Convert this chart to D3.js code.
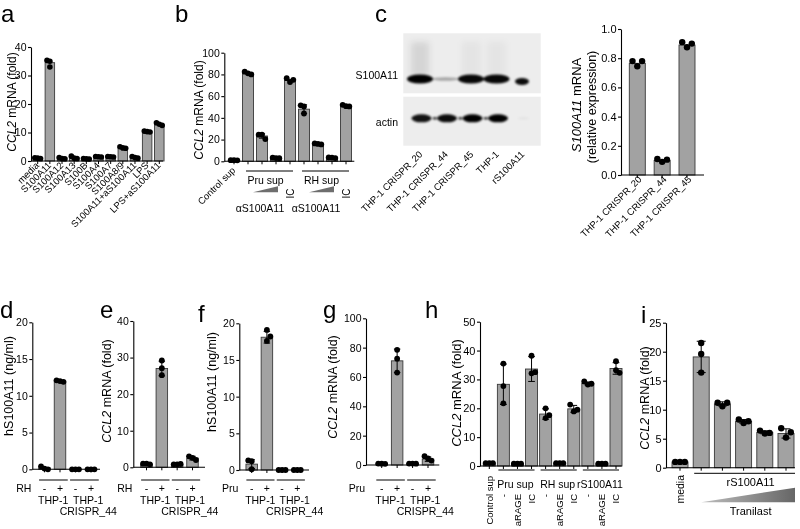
<!DOCTYPE html>
<html><head><meta charset="utf-8">
<script src="https://cdn.jsdelivr.net/npm/d3@7"></script>
<style>body{margin:0;background:#fff}svg{display:block;filter:grayscale(1)}</style>
</head><body>
<script>
// ================= DATA =================
// panel a
const aCats = ["media","S100A11","S100A12","S100A13","S100B","S100A4","S100A7","S100A8/9","S100A11+aS100A11","LPS","LPS+aS100A11"];
const aMeans = [1, 34.5, 1, 1.2, 0.8, 1.5, 1.5, 4.7, 1.3, 10.3, 12.8];
const aReps = [[1.1,1,0.9],[35.3,35,33],[1.2,0.9,0.8],[1.7,1,0.9],[0.9,0.8,0.7],[1.6,1.5,1.4],[1.6,1.5,1.4],[5,4.6,4.5],[1.6,1.2,1],[10.5,10.3,10.2],[13.4,12.9,12.5]];
const aTicks = [0,10,20,30,40];

// panel b
const bCats = ["Control sup","Pru sup","Pru sup + αS100A11 low","Pru sup + αS100A11 high","Pru sup + IC","RH sup","RH sup + αS100A11 low","RH sup + αS100A11 high","RH sup + IC"];
const bMeans = [1, 81, 23.3, 3, 74.5, 48, 16, 3.3, 51];
const bReps = [[1,1,0.9],[82.5,81,80],[24.5,24.5,20.5],[3.3,3,2.8],[76.5,73,75],[51.5,50.5,44],[16.5,16,15.5],[3.5,3.3,3],[52,50.8,50.5]];
const bErrs = [0,0,2,0,0,4,0,0,0];
const bTicks = [0,20,40,60,80,100];
const bGroups = ["Pru sup","RH sup"];
const bAntibody = "αS100A11";
const bControl = "IC";

// panel c: western blot
const blotLanes = ["THP-1 CRISPR_20","THP-1 CRISPR_44","THP-1 CRISPR_45","THP-1","rS100A11"];
const blotS100 = [1, 0.3, 0.97, 0.97, 0.95];
const blotActin = [0.92, 0.95, 1, 1, 0.04];
const blotRows = ["S100A11","actin"];
// panel c: mRNA
const cCats = ["THP-1 CRISPR_20","THP-1 CRISPR_44","THP-1 CRISPR_45"];
const cMeans = [0.765, 0.1, 0.89];
const cReps = [[0.78,0.745,0.78],[0.11,0.09,0.105],[0.91,0.875,0.9]];
const cTicks = [0,0.2,0.4,0.6,0.8,1.0];

// panels d-g
const dCats = ["THP-1 -","THP-1 +","CRISPR_44 -","CRISPR_44 +"];
const signs = ["-","+","-","+"];
const cellGroups = [["THP-1"],["THP-1","CRISPR_44"]];
const dMeans = [0.2, 12, 0, 0];
const dReps = [[0.4,0.1,0],[12.1,12,11.9],[0,0,0],[0,0,0]];
const dTicks = [0,5,10,15,20];
const eMeans = [0.9, 27, 0.8, 2.5];
const eReps = [[1,1,0.8],[29.2,27.1,25.2],[0.8,0.8,0.9],[3,2.6,2]];
const eErrs = [0, 2, 0, 0.5];
const eTicks = [0,10,20,30,40];
const fMeans = [0.8, 18.1, 0, 0];
const fReps = [[1.3,1.2,0.1],[19.1,17.6,18.2],[0,0,0],[0,0,0]];
const fErrs = [0.6, 0.8, 0, 0];
const fTicks = [0,5,10,15,20];
const gMeans = [0.8, 71, 1, 4];
const gReps = [[1,0.9,0.8],[78.5,72.5,63],[1,1,0.9],[6,4.5,3]];
const gErrs = [0, 8, 0, 1.5];
const gTicks = [0,20,40,60,80,100];

// panel h
const hCats = ["Control sup","Pru sup -","Pru sup aRAGE","Pru sup IC","RH sup -","RH sup aRAGE","RH sup IC","rS100A11 -","rS100A11 aRAGE","rS100A11 IC"];
const hSub = ["","-","aRAGE","IC","-","aRAGE","IC","-","aRAGE","IC"];
const hGroups = ["Pru sup","RH sup","rS100A11"];
const hGroupMembers = [[1,3],[4,6],[7,9]];
const hMeans = [1, 28.3, 0.8, 33.6, 18, 1, 19.8, 28.6, 0.8, 33.8];
const hReps = [[1,1,1],[35.5,27.7,21.7],[0.8,0.8,0.8],[38.2,32.1,32.5],[20,16.6,17.6],[1,1,1],[21.3,18.9,19.5],[29.3,28.2,28.5],[0.8,0.8,0.8],[36.3,33.2,32.3]];
const hErrs = [0, 7, 0, 4.3, 1.8, 0, 1.2, 0.5, 0, 2];
const hTicks = [0,10,20,30,40,50];

// panel i
const iCats = ["media","rS100A11 T0","rS100A11 T1","rS100A11 T2","rS100A11 T3","rS100A11 T4"];
const iMeans = [1, 19.1, 11, 8, 6.1, 5.9];
const iReps = [[1,1,1],[21.5,19.6,16.4],[11.2,10.6,11.2],[8.3,7.7,8],[6.4,5.9,6],[6.8,5.2,6.1]];
const iErrs = [0, 2.7, 0.35, 0.3, 0.25, 0.8];
const iTicks = [0,5,10,15,20,25];

// ================= DRAW =================
const FONT = "'Liberation Sans', Arial, sans-serif";
const BAR_FILL = "#a2a2a6", BAR_STROKE = "#3a3a3a";
const TICK = 10.5, SMALL = 10.5, TITLE = 12.5;
const svg = d3.select("body").append("svg").attr("width",800).attr("height",529).attr("font-family",FONT);
const defs = svg.append("defs");
defs.append("filter").attr("id","blur").attr("x","-50%").attr("y","-100%").attr("width","200%").attr("height","300%")
  .append("feGaussianBlur").attr("stdDeviation",1.3);
defs.append("filter").attr("id","blur2").attr("x","-50%").attr("y","-50%").attr("width","200%").attr("height","200%")
  .append("feGaussianBlur").attr("stdDeviation",3);
const grad = defs.append("linearGradient").attr("id","tri").attr("x1","0").attr("x2","1").attr("y1","0").attr("y2","0");
grad.append("stop").attr("offset","0").attr("stop-color","#bdbdbd");
grad.append("stop").attr("offset","1").attr("stop-color","#666");

function barPanel(o) {
  const g = svg.append("g");
  const x = d3.scalePoint().domain(o.cats).range([o.xFirst, o.xLast]);
  const y = d3.scaleLinear().domain([0, o.yMax]).range([o.y0, o.yTop]);
  const bw = o.bw, r = o.r || 2.9;
  g.selectAll(".bar").data(o.cats).join("rect")
    .attr("x", c => x(c) - bw/2)
    .attr("y", (c,i) => y(o.means[i]))
    .attr("width", bw)
    .attr("height", (c,i) => Math.max(0, y(0) - y(o.means[i])))
    .attr("fill", BAR_FILL).attr("stroke", BAR_STROKE).attr("stroke-width", 0.9);
  if (o.errs) {
    o.cats.forEach((c,i) => {
      const e = o.errs[i]; if (!e) return;
      const cx = x(c), m = o.means[i], cw = bw*0.28;
      g.append("line").attr("x1",cx).attr("x2",cx).attr("y1",y(Math.max(0,m-e))).attr("y2",y(m+e)).attr("stroke","#000").attr("stroke-width",1);
      [Math.max(0,m-e), m+e].forEach(v => g.append("line").attr("x1",cx-cw).attr("x2",cx+cw).attr("y1",y(v)).attr("y2",y(v)).attr("stroke","#000").attr("stroke-width",1));
    });
  }
  const ax = d3.axisLeft(y).tickValues(o.ticks).tickSize(3).tickSizeOuter(0).tickPadding(1.5).tickFormat(o.fmt || d3.format("d"));
  const ag = g.append("g").attr("transform",`translate(${o.axisX},0)`).call(ax);
  ag.attr("font-family",FONT).attr("font-size",o.tickFont || TICK);
  ag.selectAll("path,line").attr("stroke","#000").attr("stroke-width",1.1);
  ag.selectAll("text").attr("fill","#000");
  g.append("line").attr("x1",o.axisX).attr("x2",o.axisEnd).attr("y1",o.y0).attr("y2",o.y0).attr("stroke","#000").attr("stroke-width",1.1);
  g.selectAll(".xt").data(o.cats).join("line").attr("x1",c=>x(c)).attr("x2",c=>x(c)).attr("y1",o.y0).attr("y2",o.y0+3).attr("stroke","#000").attr("stroke-width",1);
  o.cats.forEach((c,i) => {
    const reps = o.reps[i];
    const py = reps.map(v => y(v));
    reps.forEach((v,j) => {
      const overlap = py.some((q,k) => k!==j && Math.abs(q-py[j]) < 2*r);
      const dx = overlap ? (j-1)*bw*0.3 : 0;
      g.append("circle").attr("cx", x(c)+dx).attr("cy", py[j]).attr("r", r).attr("fill","#000");
    });
  });
  return {g,x,y,step:x.step()};
}
function yTitle(cx, cy, parts, size) {
  const t = svg.append("text").attr("transform",`translate(${cx},${cy}) rotate(-90)`).attr("text-anchor","middle").attr("dy","0.35em").attr("font-size",size||TITLE);
  parts.forEach(p => t.append("tspan").attr("font-style", p.i ? "italic":"normal").text(p.t));
  return t;
}
function letter(ch, x, y) {
  svg.append("text").attr("x",x).attr("y",y).attr("font-size",24).text(ch);
}
function diagLabels(P, cats, y0, dx, dy, size) {
  cats.forEach(c => {
    const px = P.x(c)+dx, py = y0+dy;
    svg.append("text").attr("x",px).attr("y",py).attr("text-anchor","end").attr("font-size",size)
      .attr("transform",`rotate(-45,${px},${py})`).text(c);
  });
}
function hline(x1,x2,y,w) { svg.append("line").attr("x1",x1).attr("x2",x2).attr("y1",y).attr("y2",y).attr("stroke","#000").attr("stroke-width",w||1); }
function vtext(x, y, s, size, anchor) {
  svg.append("text").attr("transform",`translate(${x},${y}) rotate(-90)`).attr("text-anchor",anchor||"end").attr("dy","0.35em").attr("font-size",size).text(s);
}
const CCL2 = [{t:"CCL2",i:true},{t:" mRNA (fold)"}];

// ---- a ----
letter("a", 1, 22);
const A = barPanel({cats:aCats, means:aMeans, reps:aReps, yMax:40, ticks:aTicks, axisX:31, axisEnd:163, y0:161, yTop:47, xFirst:37.7, xLast:159.3, bw:9.5, r:2.8});
yTitle(11.5, 102, CCL2, 12);
diagLabels(A, aCats, 161, 2, 5, 9.5);

// ---- b ----
letter("b", 175, 22);
const B = barPanel({cats:bCats, means:bMeans, reps:bReps, errs:bErrs, yMax:100, ticks:bTicks, axisX:224.3, axisEnd:354.3, y0:161.3, yTop:52.7, xFirst:234, xLast:346, bw:11});
yTitle(199, 110, CCL2, 12);
{
  const px = B.x(bCats[0])+2, py = 171;
  svg.append("text").attr("x",px).attr("y",py).attr("text-anchor","end").attr("font-size",9.5).attr("transform",`rotate(-45,${px},${py})`).text(bCats[0]);
  bGroups.forEach((gname, gi) => {
    const first = bCats[1+gi*4], low = bCats[2+gi*4], high = bCats[3+gi*4], ic = bCats[4+gi*4];
    const x1 = B.x(first)-2, x2 = B.x(ic)+3;
    hline(x1, x2, 171, 1);
    svg.append("text").attr("x",(x1+x2)/2-4).attr("y",184).attr("text-anchor","middle").attr("font-size",SMALL).text(gname);
    const tx1 = B.x(low)-9, tx2 = B.x(high)+2;
    svg.append("path").attr("d",`M${tx1},192.3L${tx2},192.3L${tx2},186.2Z`).attr("fill","#6e6e6e");
    svg.append("text").attr("x",B.x(low)-2).attr("y",212).attr("text-anchor","middle").attr("font-size",SMALL).text(bAntibody);
    vtext(B.x(ic), 193.5, bControl, 10, "middle");
  });
}

// ---- c blot ----
letter("c", 375, 22);
{
  const lx = d3.scalePoint().domain(blotLanes).range([420, 522]);
  const boxes = [{y:33.3,h:60},{y:96.7,h:49}];
  boxes.forEach(b => svg.append("rect").attr("x",403.3).attr("y",b.y).attr("width",137.4).attr("height",b.h).attr("fill","#ededed"));
  svg.append("text").attr("x",398).attr("y",78.5).attr("text-anchor","end").attr("font-size",10.5).text(blotRows[0]);
  svg.append("text").attr("x",398).attr("y",125.5).attr("text-anchor","end").attr("font-size",10.5).text(blotRows[1]);
  const sm = svg.append("g").attr("filter","url(#blur2)");
  blotLanes.forEach((l,i) => {
    const s = blotS100[i];
    if (l !== "rS100A11" && s > 0.5) sm.append("rect").attr("x",lx(l)-9).attr("y",42).attr("width",18).attr("height",34).attr("fill","#000").attr("opacity",i===0?0.1:0.04);
  });
  const bg = svg.append("g").attr("filter","url(#blur)");
  blotLanes.forEach((l,i) => {
    const rec = l === "rS100A11";
    const s = blotS100[i];
    bg.append("ellipse").attr("cx",lx(l)).attr("cy",rec?81.5:79).attr("rx",rec?7:13).attr("ry",rec?3.4:s<0.5?1.8:4.6).attr("fill","#000").attr("opacity",s);
    const a = blotActin[i];
    bg.append("ellipse").attr("cx",lx(l)+1.5).attr("cy",118.3).attr("rx",rec?6:10).attr("ry",rec?1.2:4).attr("fill","#000").attr("opacity",a);
    if (i < 3) bg.append("ellipse").attr("cx",(lx(l)+lx(blotLanes[i+1]))/2+2).attr("cy",118.3).attr("rx",1.8).attr("ry",1.4).attr("fill","#000").attr("opacity",0.85);
  });
  blotLanes.forEach(l => {
    const px = lx(l)+3, py = 155;
    svg.append("text").attr("x",px).attr("y",py).attr("text-anchor","end").attr("font-size",9.5).attr("transform",`rotate(-45,${px},${py})`).text(l);
  });
}

// ---- c mRNA ----
const C = barPanel({cats:cCats, means:cMeans, reps:cReps, yMax:1.0, ticks:cTicks, fmt:d3.format(".1f"), axisX:621, axisEnd:704, y0:175, yTop:29, xFirst:637.3, xLast:687, bw:16, r:3.2, tickFont:11});
yTitle(576, 105, [{t:"S100A11",i:true},{t:" mRNA"}], 13);
yTitle(591.5, 107, [{t:"(relative expression)"}], 12.5);
diagLabels(C, cCats, 175, 5, 5, 9.5);

// ---- d-g ----
function cellAnnot(P, axisX, rowLabel) {
  const st = P.step;
  hline(P.x(dCats[0]) - st*0.35, P.x(dCats[1]) + st*0.5, 480, 1);
  hline(P.x(dCats[2]) - st*0.35, P.x(dCats[3]) + st*0.5, 480, 1);
  svg.append("text").attr("x",axisX-1).attr("y",491.5).attr("text-anchor","end").attr("font-size",SMALL).text(rowLabel);
  dCats.forEach((c,i) => svg.append("text").attr("x",P.x(c)).attr("y",491.5).attr("text-anchor","middle").attr("font-size",SMALL).text(signs[i]));
  cellGroups.forEach((lines, gi) => {
    const cx = (P.x(dCats[gi*2]) + P.x(dCats[gi*2+1]))/2 + (gi ? 5 : 1);
    lines.forEach((s, li) => svg.append("text").attr("x",cx).attr("y",504 + li*10.5).attr("text-anchor","middle").attr("font-size",SMALL).text(s));
  });
}
letter("d", 0, 318);
const D = barPanel({cats:dCats, means:dMeans, reps:dReps, yMax:20, ticks:dTicks, axisX:32.3, axisEnd:100, y0:469.3, yTop:322.3, xFirst:44.5, xLast:91, bw:11.5});
yTitle(9, 386, [{t:"hS100A11 (ng/ml)"}]);
cellAnnot(D, 32.3, "RH");

letter("e", 100, 318);
const E = barPanel({cats:dCats, means:eMeans, reps:eReps, errs:eErrs, yMax:40, ticks:eTicks, axisX:133.3, axisEnd:205, y0:467.3, yTop:321, xFirst:146.5, xLast:192.5, bw:11.5});
yTitle(107, 391, CCL2);
cellAnnot(E, 133.3, "RH");

letter("f", 198, 322);
const F = barPanel({cats:dCats, means:fMeans, reps:fReps, errs:fErrs, yMax:20, ticks:fTicks, axisX:239.3, axisEnd:309, y0:470, yTop:323.3, xFirst:251.7, xLast:297.3, bw:11.5});
yTitle(212, 382, [{t:"hS100A11 (ng/ml)"}]);
cellAnnot(F, 239.3, "Pru");

letter("g", 323, 318);
const G = barPanel({cats:dCats, means:gMeans, reps:gReps, errs:gErrs, yMax:100, ticks:gTicks, axisX:366, axisEnd:439.3, y0:465, yTop:318.3, xFirst:381.7, xLast:428, bw:11.5});
yTitle(333, 387, CCL2);
cellAnnot(G, 366, "Pru");

// ---- h ----
letter("h", 425, 318);
const H = barPanel({cats:hCats, means:hMeans, reps:hReps, errs:hErrs, yMax:50, ticks:hTicks, axisX:480, axisEnd:621.7, y0:466, yTop:321.7, xFirst:489.3, xLast:616, bw:12, tickFont:11});
yTitle(456, 393, CCL2, 13);
vtext(H.x(hCats[0]), 476, hCats[0], 9.5, "end");
hGroupMembers.forEach((m, gi) => {
  const x1 = H.x(hCats[m[0]]) - 5, x2 = H.x(hCats[m[1]]) + 3;
  hline(x1, x2, 470, 1);
  svg.append("text").attr("x",(x1+x2)/2-1).attr("y",487.5).attr("text-anchor","middle").attr("font-size",SMALL).text(hGroups[gi]);
});
hCats.forEach((c,i) => { if (hSub[i]) vtext(H.x(c), 494, hSub[i], 9.5, "end"); });

// ---- i ----
letter("i", 641, 323);
const I = barPanel({cats:iCats, means:iMeans, reps:iReps, errs:iErrs, yMax:25, ticks:iTicks, axisX:666, axisEnd:795, y0:467.7, yTop:322.7, xFirst:680, xLast:786, bw:16, r:3.2, tickFont:11});
yTitle(645, 398, CCL2);
vtext(I.x(iCats[0]), 475, iCats[0], SMALL, "end");
{
  const x1 = I.x(iCats[1]) - 7, x2 = 795;
  hline(x1, x2, 473.3, 1);
  svg.append("text").attr("x",(x1+x2)/2+6).attr("y",486).attr("text-anchor","middle").attr("font-size",11).text("rS100A11");
  svg.append("path").attr("d",`M${I.x(iCats[1])},502.3L${x2},502.3L${x2},487.7Z`).attr("fill","url(#tri)");
  svg.append("text").attr("x",(x1+x2)/2+6).attr("y",514.5).attr("text-anchor","middle").attr("font-size",11).text("Tranilast");
}
</script>
</body></html>
